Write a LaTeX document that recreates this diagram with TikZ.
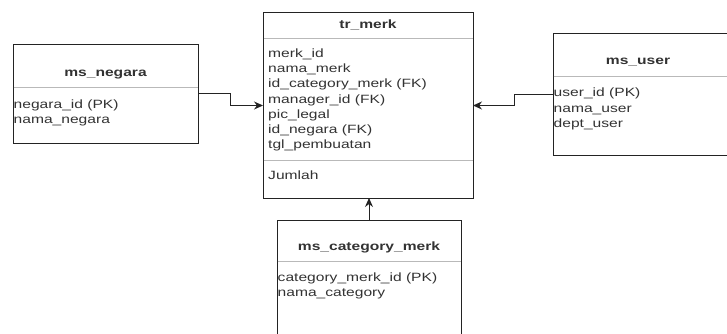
\documentclass[tikz,border=0pt]{standalone}
\usepackage{fontspec}
\usepackage{xcolor}
\usetikzlibrary{arrows.meta}
\newfontfamily\erfont[FakeStretch=1.3]{Liberation Sans}
\definecolor{erline}{RGB}{35,35,35}
\definecolor{ersep}{RGB}{185,185,185}
\definecolor{ertext}{RGB}{50,50,50}

\begin{document}
\begin{tikzpicture}[x=1pt,y=-1pt,
    entity/.style={draw=erline,line width=1pt,inner sep=0pt,outer sep=0pt},
    title/.style={anchor=base,inner sep=0pt,text=ertext,font=\erfont\fontsize{12}{15}\selectfont\bfseries},
    field/.style={anchor=base west,inner sep=0pt,text=ertext,font=\erfont\fontsize{12}{15}\selectfont},
    sepline/.style={ersep,line width=0.8pt},
    rel/.style={draw=erline,line width=1pt,-{Stealth[length=9pt,width=8pt]}}]
        \path[use as bounding box,clip] (0,0) rectangle (727,334);
        % entity boxes
        \node[entity,minimum width=185pt,minimum height=98pt] (negara) at (105.5,94) {};
        \node[entity,minimum width=210pt,minimum height=185pt] (merk) at (368,105.5) {};
        \node[entity,minimum width=187pt,minimum height=121pt] (user) at (646.5,94.5) {};
        \node[entity,minimum width=184pt,minimum height=125pt] (cat) at (369,282.5) {};
        % header and section lines
        \draw[sepline] (13.5,87) -- (197.5,87);
        \draw[sepline] (263.5,38) -- (472.5,38);
        \draw[sepline] (263.5,160) -- (472.5,160);
        \draw[sepline] (553.5,76) -- (740,76);
        \draw[sepline] (277.5,261) -- (460.5,261);
        % titles
        \node[title] (negaraT) at (105.5,77) {ms\_negara};
        \node[title] (merkT) at (368,29) {tr\_merk};
        \node[title] (userT) at (638,65) {ms\_user};
        \node[title] (catT) at (369,250) {ms\_category\_merk};
        % fields
        \foreach \t [count=\i] in {negara\_id (PK),nama\_negara}
            {\node[field] (negaraF\i) at (13.5,94+15*\i) {\t};}
        \foreach \t [count=\i] in {merk\_id,nama\_merk,id\_category\_merk (FK),manager\_id (FK),pic\_legal,id\_negara (FK),tgl\_pembuatan}
            {\node[field] (merkF\i) at (268,43+15*\i) {\t};}
        \node[field] (merkJ) at (268,179) {Jumlah};
        \foreach \t [count=\i] in {user\_id (PK),nama\_user,dept\_user}
            {\node[field] (userF\i) at (553.5,82+15*\i) {\t};}
        \foreach \t [count=\i] in {category\_merk\_id (PK),nama\_category}
            {\node[field] (catF\i) at (277.5,266+15*\i) {\t};}
        % relations
        \draw[rel] (negara.east) -- ++(32,0) |- (merk.west);
        \draw[rel] (user.west) -- ++(-39,0) |- (merk.east);
        \draw[rel] (cat.north) -- (cat.north |- merk.south);
    \end{tikzpicture}
\end{document}
